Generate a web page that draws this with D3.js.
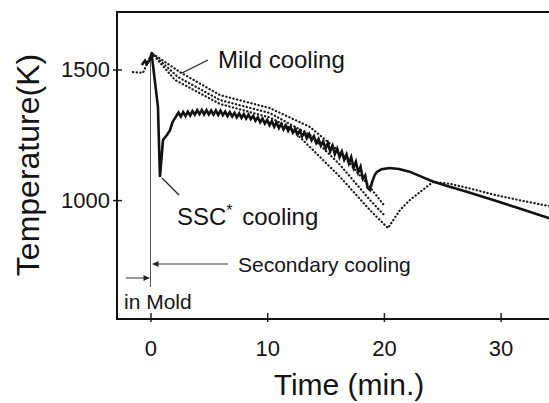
<!DOCTYPE html>
<html>
<head>
<meta charset="utf-8">
<script src="https://cdn.jsdelivr.net/npm/d3@7"></script>
<style>
  body { margin: 0; background: #fff; }
  text { font-family: "Liberation Sans", Arial, Helvetica, sans-serif; fill: #141414; }
</style>
</head>
<body>
<div id="chart"></div>
<script>
// axis ticks
var timeTicks = [0, 10, 20, 30]
var tempTicks = [1000, 1500]

// SSC* cooling (solid line), time in min, temperature in K
var sscTime = [-0.75, -0.47, -0.32, -0.1, 0.1, 0.64, 0.81, 1.07, 1.41, 1.67, 1.9, 2.1, 2.27,
  2.4, 2.6, 2.8, 3.0, 3.2, 3.4, 3.6, 3.8, 4.0, 4.2, 4.4, 4.6, 4.8, 5.0, 5.2, 5.4, 5.6, 5.8,
  6.0, 6.2, 6.4, 6.6, 6.8, 7.0, 7.2, 7.4, 7.6, 7.8, 8.0, 8.2, 8.4, 8.6, 8.8, 9.0, 9.2, 9.4,
  9.6, 9.8, 10.0, 10.2, 10.4, 10.6, 10.8, 11.0, 11.2, 11.4, 11.6, 11.8, 12.0, 12.2, 12.4,
  12.6, 12.8, 13.0, 13.2, 13.4, 13.6, 13.8, 14.0, 14.2, 14.4, 14.6, 14.8, 15.0, 15.2, 15.4,
  15.6, 15.8, 16.0, 16.2, 16.4, 16.6, 16.8, 17.0, 17.2, 17.4, 17.6, 17.8, 18.0, 18.2, 18.4,
  18.6, 18.8, 19.0, 19.2, 19.4, 19.8, 20.5, 21.3, 22.2, 23.2, 24.2, 25.5, 27.1, 29.3, 31.5, 34.2]
var sscTemp = [1517, 1534, 1521, 1534, 1560, 1356, 1089, 1230, 1249, 1268, 1300, 1314, 1326,
  1335, 1320, 1337, 1322, 1339, 1324, 1341, 1327, 1344, 1329, 1345, 1328, 1344, 1328, 1343, 1327, 1343, 1326,
  1342, 1325, 1339, 1322, 1337, 1320, 1334, 1317, 1332, 1315, 1329, 1312, 1327, 1310, 1322, 1304, 1317, 1298,
  1312, 1293, 1307, 1287, 1302, 1281, 1297, 1276, 1292, 1271, 1286, 1265, 1280, 1258, 1273,
  1251, 1266, 1244, 1260, 1237, 1253, 1229, 1244, 1219, 1234, 1209, 1225, 1197, 1218, 1187,
  1208, 1176, 1197, 1165, 1186, 1155, 1175, 1141, 1165, 1124, 1147, 1106, 1128, 1082, 1095,
  1048, 1039, 1070, 1095, 1108, 1118, 1123, 1119, 1109, 1090, 1071, 1053, 1032, 1001, 970, 930]

// Mild cooling (dotted lines)
var mildTime1 = [-1.5, -0.64, 0.1, 2.53, 5.96, 10.24, 13.67, 16.24, 18.8, 20.0]
var mildTemp1 = [1490, 1487, 1563, 1490, 1402, 1352, 1280, 1184, 1050, 981]
var mildTime2 = [0.1, 2.36, 5.96, 10.24, 13.67, 16.24, 18.8, 20.1]
var mildTemp2 = [1563, 1471, 1383, 1333, 1249, 1135, 1001, 939]
var mildTime3 = [0.1, 2.1, 5.96, 10.24, 12.0, 13.67, 16.24, 18.8, 20.35, 21.38, 22.24, 23.09,
  24.2, 25.6, 27.5, 29.5, 31.8, 34.2]
var mildTemp3 = [1563, 1460, 1368, 1316, 1276, 1203, 1089, 962, 893, 962, 1001, 1031,
  1069, 1063, 1043, 1020, 998, 977]

var width = 549, height = 403
var plotLeft = 117, plotTop = 12, plotBottom = 319, plotRight = 549

var svg = d3.select("#chart").append("svg")
    .attr("width", width)
    .attr("height", height)

var xScale = d3.scaleLinear().domain([-2.87, 34.15]).range([plotLeft, plotRight])
var yScale = d3.scaleLinear().domain([545, 1720]).range([plotBottom, plotTop])

function zip(xs, ys){
    return xs.map(function(x, i){ return {t: x, k: ys[i]} })
}

var line = d3.line()
    .x(function(d){ return xScale(d.t) })
    .y(function(d){ return yScale(d.k) })

var defs = svg.append("defs")
defs.append("marker")
    .attr("id", "arrow")
    .attr("viewBox", "0 0 10 10")
    .attr("refX", 10).attr("refY", 5)
    .attr("markerWidth", 8).attr("markerHeight", 6)
    .attr("markerUnits", "userSpaceOnUse")
    .attr("orient", "auto")
  .append("path")
    .attr("d", "M0,0 L10,5 L0,10 Z")
    .attr("fill", "#222")

// axes
var xAxis = svg.append("g")
    .attr("transform", "translate(0," + plotBottom + ")")
    .call(d3.axisBottom(xScale).tickValues(timeTicks).tickSize(-6).tickPadding(21))
xAxis.select(".domain").remove()
xAxis.selectAll(".tick line").attr("y1", 3).attr("y2", -6).attr("stroke", "#222").attr("stroke-width", 1.5)
xAxis.selectAll(".tick text").attr("font-size", "22px").attr("fill", "#141414")
    .attr("font-family", "Liberation Sans, Arial, sans-serif")

var yAxis = svg.append("g")
    .attr("transform", "translate(" + plotLeft + ",0)")
    .call(d3.axisLeft(yScale).tickValues(tempTicks).tickFormat(d3.format("d")).tickSize(-5).tickPadding(7))
yAxis.select(".domain").remove()
yAxis.selectAll(".tick line").attr("x1", -4).attr("x2", 5).attr("stroke", "#222").attr("stroke-width", 1.5)
yAxis.selectAll(".tick text").attr("font-size", "22px").attr("fill", "#141414")
    .attr("font-family", "Liberation Sans, Arial, sans-serif")

// frame (open on the right, cut by the picture edge)
svg.append("path")
    .attr("d", "M" + plotRight + "," + plotTop + " H" + plotLeft + " V" + plotBottom + " H" + plotRight)
    .attr("fill", "none")
    .attr("stroke", "#111")
    .attr("stroke-width", 2)

// mild cooling dots
;[[mildTime1, mildTemp1], [mildTime2, mildTemp2], [mildTime3, mildTemp3]].forEach(function(s){
    svg.append("path")
        .datum(zip(s[0], s[1]))
        .attr("d", line)
        .attr("fill", "none")
        .attr("stroke", "#1a1a1a")
        .attr("stroke-width", 2.2)
        .attr("stroke-linecap", "round")
        .attr("stroke-dasharray", "0.3 3.4")
})

// vertical marker at t = 0
svg.append("line")
    .attr("x1", xScale(0)).attr("x2", xScale(0))
    .attr("y1", yScale(1555)).attr("y2", 287)
    .attr("stroke", "#555")
    .attr("stroke-width", 1)

// SSC* solid line
svg.append("path")
    .datum(zip(sscTime, sscTemp))
    .attr("d", line)
    .attr("fill", "none")
    .attr("stroke", "#111")
    .attr("stroke-width", 2.6)
    .attr("stroke-linejoin", "miter")

// leader lines
svg.append("line").attr("x1", 182).attr("y1", 73).attr("x2", 208).attr("y2", 60)
    .attr("stroke", "#222").attr("stroke-width", 1.3)
svg.append("line").attr("x1", 162).attr("y1", 178).attr("x2", 179).attr("y2", 195)
    .attr("stroke", "#222").attr("stroke-width", 1.3)

// arrows
svg.append("line").attr("x1", 228).attr("y1", 264).attr("x2", xScale(0) + 2).attr("y2", 264)
    .attr("stroke", "#333").attr("stroke-width", 1).attr("marker-end", "url(#arrow)")
svg.append("line").attr("x1", 126).attr("y1", 278).attr("x2", xScale(0) - 1).attr("y2", 278)
    .attr("stroke", "#333").attr("stroke-width", 1).attr("marker-end", "url(#arrow)")

// labels
svg.append("text").attr("x", 218).attr("y", 68).attr("font-size", "24px").text("Mild cooling")

var ssc = svg.append("text").attr("x", 177).attr("y", 225).attr("font-size", "24px")
ssc.append("tspan").text("SSC")
ssc.append("tspan").attr("font-size", "16px").attr("dy", -9).text("*")
ssc.append("tspan").attr("dy", 9).attr("dx", 3).text(" cooling")

svg.append("text").attr("x", 238).attr("y", 272).attr("font-size", "21px").text("Secondary cooling")
svg.append("text").attr("x", 124).attr("y", 309).attr("font-size", "21px").text("in Mold")

svg.append("text")
    .attr("x", 349).attr("y", 395)
    .attr("text-anchor", "middle")
    .attr("font-size", "30px")
    .text("Time (min.)")

svg.append("text")
    .attr("transform", "translate(38.5,165) rotate(-90)")
    .attr("text-anchor", "middle")
    .attr("font-size", "32px")
    .text("Temperature(K)")
</script>
</body>
</html>
